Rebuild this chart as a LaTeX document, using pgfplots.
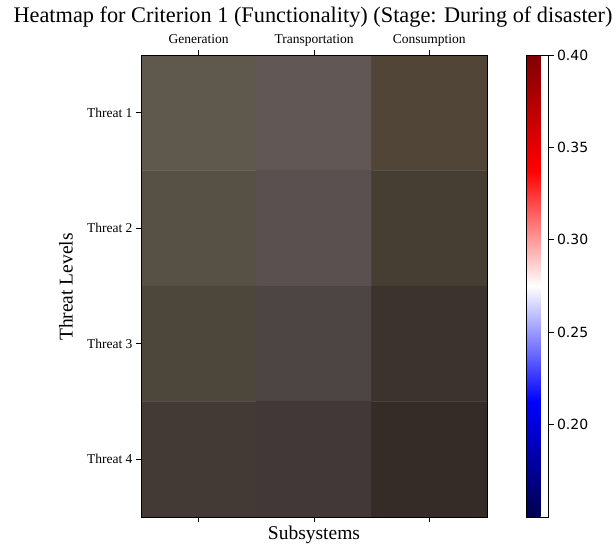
\documentclass[border=0pt]{standalone}
\usepackage{pgfplots}
\pgfplotsset{compat=1.18}
\usepackage{fontspec}
\setmainfont{Liberation Serif}
\newfontfamily\dejavu{DejaVu Sans}
\pgfplotsset{
  colormap={cells}{
    rgb255=(94,88,77) rgb255=(97,88,86) rgb255=(81,69,56)
    rgb255=(87,80,69) rgb255=(89,80,79) rgb255=(70,61,51)
    rgb255=(77,70,59) rgb255=(77,69,68) rgb255=(60,51,47)
    rgb255=(67,58,54) rgb255=(66,56,55) rgb255=(53,43,39)},
  colormap={seismic}{rgb=(0,0,0.3) rgb=(0,0,1) rgb=(1,1,1) rgb=(1,0,0) rgb=(0.5,0,0)}
}
\begin{document}
\begin{tikzpicture}[x=1bp,y=1bp]
\path[use as bounding box] (0bp,0bp) rectangle (616bp,548bp);
\begin{axis}[
  at={(314bp,262bp)}, anchor=center,
  scale only axis, width=346bp, height=462bp,
  xmin=-0.5, xmax=2.5, ymin=-0.5, ymax=3.5,
  y dir=reverse,
  enlargelimits=false,
  axis on top,
  xtick={0,1,2}, xticklabels={Generation,Transportation,Consumption},
  ytick={0,1,2,3}, yticklabels={Threat 1,Threat 2,Threat 3,Threat 4},
  xtick pos=both, xticklabel pos=upper,
  ytick pos=left,
  tick align=outside,
  major tick length=5bp,
  tick style={black, line width=0.6pt},
  axis line style={line width=0.8pt},
  tick label style={font=\fontsize{13.5bp}{15bp}\selectfont},
  xticklabel style={text depth=3bp, text height=9bp},
  colormap name=cells,
]
\addplot[matrix plot, mesh/cols=3, point meta=explicit, colormap access=direct] table[meta=c] {
x y c
0 0 0
1 0 1
2 0 2
0 1 3
1 1 4
2 1 5
0 2 6
1 2 7
2 2 8
0 3 9
1 3 10
2 3 11
};
\end{axis}
\begin{axis}[
  at={(529bp,262bp)}, anchor=center,
  scale only axis, width=22bp, height=462bp,
  hide axis,
  colormap name=seismic,
  point meta min=0.15, point meta max=0.40,
  colorbar,
  colorbar style={
    at={(parent axis.south west)}, anchor=south west,
    scale only axis, width=22bp, height=462bp,
    ytick={0.20,0.25,0.30,0.35,0.40},
    yticklabel style={font=\dejavu\fontsize{14bp}{16bp}\selectfont},
    yticklabel={\pgfmathprintnumber[fixed,fixed zerofill,precision=2,assume math mode=true]{\tick}},
    ytick pos=right, yticklabel pos=right,
    tick align=outside, major tick length=5bp,
    tick style={black, line width=0.6pt},
    axis line style={line width=0.8pt},
  },
]
\addplot[draw=none] coordinates {(0,0)};
\end{axis}
\node[font=\fontsize{22.3bp}{26bp}\selectfont] at (313bp,531bp) {Heatmap for Criterion 1 (Functionality) (Stage: During of disaster)};
\node[font=\fontsize{19.5bp}{23bp}\selectfont, rotate=90] at (66bp,261bp) {Threat Levels};
\node[font=\fontsize{19.5bp}{23bp}\selectfont] at (314bp,13bp) {Subsystems};
\end{tikzpicture}
\end{document}
